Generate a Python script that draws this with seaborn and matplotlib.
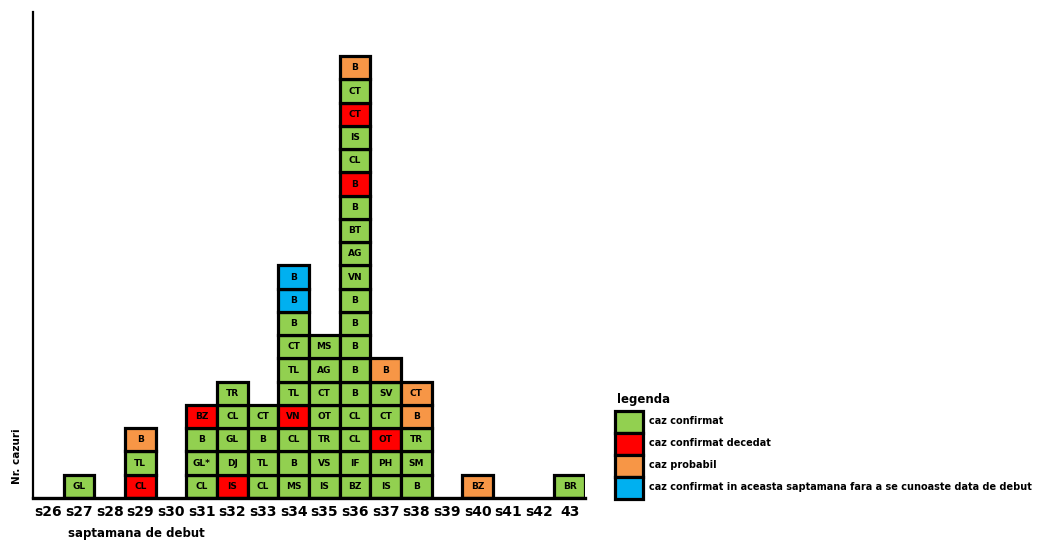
import matplotlib
matplotlib.use("Agg")
import matplotlib.pyplot as plt
from matplotlib.patches import Rectangle
import seaborn as sns
import pandas as pd

weeks = ["s26", "s27", "s28", "s29", "s30", "s31", "s32", "s33", "s34", "s35",
         "s36", "s37", "s38", "s39", "s40", "s41", "s42", "43"]

# cases per week, bottom to top: county code and status
# status: C = caz confirmat, D = decedat, P = probabil, U = fara data de debut
codes = {
    "s27": ["GL"],
    "s29": ["CL", "TL", "B"],
    "s31": ["CL", "GL*", "B", "BZ"],
    "s32": ["IS", "DJ", "GL", "CL", "TR"],
    "s33": ["CL", "TL", "B", "CT"],
    "s34": ["MS", "B", "CL", "VN", "TL", "TL", "CT", "B", "B", "B"],
    "s35": ["IS", "VS", "TR", "OT", "CT", "AG", "MS"],
    "s36": ["BZ", "IF", "CL", "CL", "B", "B", "B", "B", "B", "VN", "AG", "BT",
            "B", "B", "CL", "IS", "CT", "CT", "B"],
    "s37": ["IS", "PH", "OT", "CT", "SV", "B"],
    "s38": ["B", "SM", "TR", "B", "CT"],
    "s40": ["BZ"],
    "43": ["BR"],
}
status = {
    "s27": ["C"],
    "s29": ["D", "C", "P"],
    "s31": ["C", "C", "C", "D"],
    "s32": ["D", "C", "C", "C", "C"],
    "s33": ["C", "C", "C", "C"],
    "s34": ["C", "C", "C", "D", "C", "C", "C", "C", "U", "U"],
    "s35": ["C", "C", "C", "C", "C", "C", "C"],
    "s36": ["C", "C", "C", "C", "C", "C", "C", "C", "C", "C", "C", "C",
            "C", "D", "C", "C", "D", "C", "P"],
    "s37": ["C", "C", "D", "C", "C", "P"],
    "s38": ["C", "C", "C", "P", "P"],
    "s40": ["P"],
    "43": ["C"],
}

legend_labels = ["caz confirmat", "caz confirmat decedat", "caz probabil",
                 "caz confirmat in aceasta saptamana fara a se cunoaste data de debut"]
status_keys = ["C", "D", "P", "U"]
palette = {"C": "#92D050", "D": "#FF0000", "P": "#F79646", "U": "#00B0F0"}

rows = []
for w, cl in codes.items():
    for lvl, (c, s) in enumerate(zip(cl, status[w])):
        rows.append({"week": w, "pos": weeks.index(w), "level": lvl, "code": c, "status": s})
df = pd.DataFrame(rows)

sns.set_theme(style="white")
plt.rcParams["font.family"] = ["DejaVu Sans"]
plt.rcParams["text.color"] = "black"
plt.rcParams["xtick.color"] = "black"

fig = plt.figure(figsize=(10.41, 5.41), dpi=100)
ax = fig.add_axes([33 / 1041, 43 / 541, (585 - 33) / 1041, (529 - 43) / 541])

ax.bar(df["pos"], 1, bottom=df["level"], width=1.0,
       color=[palette[s] for s in df["status"]],
       edgecolor="black", linewidth=2.3, zorder=2)
for _, r in df.iterrows():
    ax.text(r["pos"], r["level"] + 0.5, r["code"], ha="center", va="center",
            fontsize=6.5, fontweight="bold", color="black", zorder=3)

ax.set_xlim(-0.5, len(weeks) - 0.5)
ax.set_ylim(0, 20.9)
ax.set_xticks(range(len(weeks)))
ax.set_xticklabels(weeks, fontsize=10, fontweight="bold", color="black")
ax.set_yticks([])
ax.tick_params(axis="x", length=0, pad=5)
for sp in ["top", "right"]:
    ax.spines[sp].set_visible(False)
ax.spines["left"].set_color("black")
ax.spines["left"].set_linewidth(1.6)
ax.spines["bottom"].set_color("black")
ax.spines["bottom"].set_linewidth(2.4)
ax.set_xlabel("")
ax.set_ylabel("")

fig.text(68 / 1041, 1 - 533 / 541, "saptamana de debut", fontsize=8.5,
         fontweight="bold", ha="left", va="center", color="black")
fig.text(17 / 1041, 1 - 456 / 541, "Nr. cazuri", fontsize=7.5,
         fontweight="bold", rotation=90, ha="center", va="center", color="black")

# legend
fig.text(617 / 1041, 1 - 399 / 541, "legenda", fontsize=8.5, fontweight="bold",
         ha="left", va="center", color="black")
for i, (k, lab) in enumerate(zip(status_keys, legend_labels)):
    top = 411 + 22 * i
    fig.add_artist(Rectangle((615 / 1041, 1 - (top + 22) / 541), 28 / 1041, 22 / 541,
                             transform=fig.transFigure, facecolor=palette[k],
                             edgecolor="black", linewidth=2.3))
    fig.text(649 / 1041, 1 - (top + 10) / 541, lab, fontsize=7.0, fontweight="bold",
             ha="left", va="center", color="black")

fig.savefig("out.png", dpi=100)
